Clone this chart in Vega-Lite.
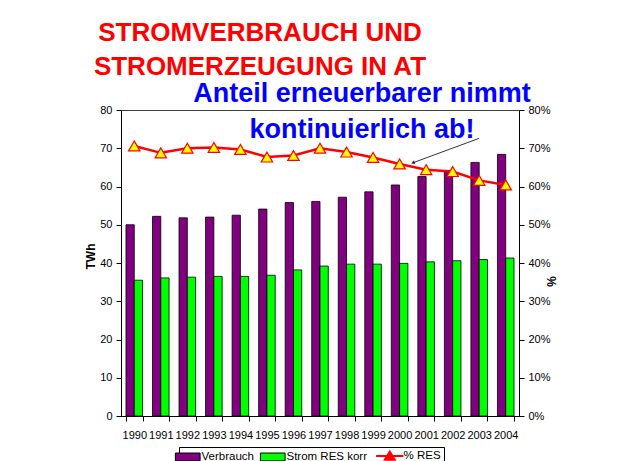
{
  "$schema": "https://vega.github.io/schema/vega-lite/v6.json",
  "width": 398,
  "height": 306,
  "autosize": {"type": "none"},
  "padding": {"left": 121, "top": 110, "right": 104, "bottom": 45},
  "background": "white",
  "config": {
    "font": "Liberation Sans",
    "view": {"stroke": "#404040", "strokeWidth": 1},
    "axis": {
      "labelFont": "Liberation Sans",
      "labelFontSize": 11,
      "labelColor": "black",
      "domainColor": "black",
      "tickColor": "black",
      "grid": false,
      "titleFont": "Liberation Sans",
      "titleFontSize": 12,
      "titleFontWeight": "bold",
      "titleColor": "black"
    }
  },
  "title": {
    "text": ["STROMVERBRAUCH UND", "STROMERZEUGUNG IN AT"],
    "font": "Liberation Sans",
    "fontSize": 26,
    "fontWeight": "bold",
    "color": "#FF0000",
    "anchor": "middle",
    "frame": "group",
    "dx": -60,
    "dy": 30,
    "lineHeight": 34,
    "offset": 30
  },
  "datasets": {
    "bars": [
      {"year": 1990, "series": "Verbrauch", "twh": 50.0},
      {"year": 1991, "series": "Verbrauch", "twh": 52.2},
      {"year": 1992, "series": "Verbrauch", "twh": 51.8},
      {"year": 1993, "series": "Verbrauch", "twh": 52.0},
      {"year": 1994, "series": "Verbrauch", "twh": 52.5},
      {"year": 1995, "series": "Verbrauch", "twh": 54.1},
      {"year": 1996, "series": "Verbrauch", "twh": 55.8},
      {"year": 1997, "series": "Verbrauch", "twh": 56.1},
      {"year": 1998, "series": "Verbrauch", "twh": 57.2},
      {"year": 1999, "series": "Verbrauch", "twh": 58.6},
      {"year": 2000, "series": "Verbrauch", "twh": 60.4},
      {"year": 2001, "series": "Verbrauch", "twh": 62.6},
      {"year": 2002, "series": "Verbrauch", "twh": 63.9},
      {"year": 2003, "series": "Verbrauch", "twh": 66.3},
      {"year": 2004, "series": "Verbrauch", "twh": 68.4},
      {"year": 1990, "series": "Strom RES korr", "twh": 35.5},
      {"year": 1991, "series": "Strom RES korr", "twh": 36.1},
      {"year": 1992, "series": "Strom RES korr", "twh": 36.3},
      {"year": 1993, "series": "Strom RES korr", "twh": 36.5},
      {"year": 1994, "series": "Strom RES korr", "twh": 36.5},
      {"year": 1995, "series": "Strom RES korr", "twh": 36.8},
      {"year": 1996, "series": "Strom RES korr", "twh": 38.2},
      {"year": 1997, "series": "Strom RES korr", "twh": 39.2},
      {"year": 1998, "series": "Strom RES korr", "twh": 39.7},
      {"year": 1999, "series": "Strom RES korr", "twh": 39.7},
      {"year": 2000, "series": "Strom RES korr", "twh": 39.9},
      {"year": 2001, "series": "Strom RES korr", "twh": 40.3},
      {"year": 2002, "series": "Strom RES korr", "twh": 40.6},
      {"year": 2003, "series": "Strom RES korr", "twh": 40.9},
      {"year": 2004, "series": "Strom RES korr", "twh": 41.3}
    ],
    "res": [
      {"year": 1990, "pct": 0.706},
      {"year": 1991, "pct": 0.688},
      {"year": 1992, "pct": 0.700},
      {"year": 1993, "pct": 0.702},
      {"year": 1994, "pct": 0.697},
      {"year": 1995, "pct": 0.677},
      {"year": 1996, "pct": 0.681},
      {"year": 1997, "pct": 0.700},
      {"year": 1998, "pct": 0.690},
      {"year": 1999, "pct": 0.676},
      {"year": 2000, "pct": 0.659},
      {"year": 2001, "pct": 0.644},
      {"year": 2002, "pct": 0.639},
      {"year": 2003, "pct": 0.616},
      {"year": 2004, "pct": 0.604}
    ],
    "notes": [
      {"year": 1999, "v": 82.1, "label": "Anteil erneuerbarer nimmt"},
      {"year": 1999, "v": 72.7, "label": "kontinuierlich ab!"}
    ],
    "arrow": [
      {"from": 2003, "to": 2000, "v1": 72.6, "v2": 66.2}
    ]
  },
  "layer": [
    {
      "layer": [
        {
          "data": {"name": "bars"},
          "mark": {"type": "bar", "stroke": "black", "strokeWidth": 0.8},
          "encoding": {
            "x": {
              "field": "year",
              "type": "ordinal",
              "scale": {"paddingInner": 0.375, "paddingOuter": 0.1875},
              "axis": {"title": null, "labelAngle": 0, "labelOverlap": false, "tickBand": "extent", "tickSize": 5, "labelPadding": 8}
            },
            "xOffset": {
              "field": "series",
              "type": "nominal",
              "sort": ["Verbrauch", "Strom RES korr"],
              "scale": {"paddingInner": 0, "paddingOuter": 0}
            },
            "y": {
              "field": "twh",
              "type": "quantitative",
              "scale": {"domain": [0, 80], "nice": false},
              "axis": {"title": "TWh", "values": [0, 10, 20, 30, 40, 50, 60, 70, 80], "labelOverlap": false, "tickSize": 5, "labelPadding": 4, "titleAngle": -90, "titleX": -31, "titleY": 146, "titleAlign": "center", "titleBaseline": "middle"}
            },
            "color": {
              "field": "series",
              "type": "nominal",
              "scale": {
                "domain": ["Verbrauch", "Strom RES korr", "% RES"],
                "range": ["#800080", "#00FF00", "#FF0000"]
              },
              "legend": {
                "orient": "none",
                "legendX": 58,
                "legendY": 337,
                "direction": "horizontal",
                "title": null,
                "strokeColor": "black",
                "fillColor": "white",
                "padding": 3,
                "labelFont": "Liberation Sans",
                "labelFontSize": 11.5,
                "labelColor": "black",
                "labelOffset": 8,
                "columnPadding": 4,
                "symbolSize": 676,
                "symbolStrokeColor": "black",
                "symbolStrokeWidth": 1,
                "encode": {
                  "symbols": {
                    "update": {
                      "shape": {"signal": "datum.value === '% RES' ? 'M-1.05,0H1.05M0,-0.35L0.38,0.27H-0.38Z' : 'M-0.95,-0.3H0.95V0.3H-0.95Z'"},
                      "fill": {"signal": "datum.value === '% RES' ? '#FFFF00' : (datum.value === 'Verbrauch' ? '#800080' : '#00FF00')"},
                      "stroke": {"signal": "datum.value === '% RES' ? '#FF0000' : 'black'"},
                      "strokeWidth": {"signal": "datum.value === '% RES' ? 2 : 1"},
                      "opacity": {"value": 1}
                    }
                  }
                }
              }
            }
          }
        },
        {
          "data": {"name": "notes"},
          "mark": {
            "type": "text",
            "font": "Liberation Sans",
            "fontSize": 27,
            "fontWeight": "bold",
            "color": "#0000FF",
            "align": "center",
            "baseline": "alphabetic",
            "dx": -11
          },
          "encoding": {
            "x": {"field": "year", "type": "ordinal",
              "axis": {"title": null, "labelAngle": 0, "labelOverlap": false, "tickBand": "extent", "tickSize": 5, "labelPadding": 8}},
            "y": {"field": "v", "type": "quantitative",
              "axis": {"title": "TWh", "values": [0, 10, 20, 30, 40, 50, 60, 70, 80], "labelOverlap": false, "tickSize": 5, "labelPadding": 4, "titleAngle": -90, "titleX": -31, "titleY": 146, "titleAlign": "center", "titleBaseline": "middle"}},
            "text": {"field": "label"}
          }
        },
        {
          "data": {"name": "arrow"},
          "mark": {"type": "rule", "color": "black", "strokeWidth": 0.8},
          "encoding": {
            "x": {"field": "from", "type": "ordinal", "bandPosition": 0.5, "title": null,
              "axis": {"title": null, "labelAngle": 0, "labelOverlap": false, "tickBand": "extent", "tickSize": 5, "labelPadding": 8}},
            "x2": {"field": "to", "bandPosition": 1.3},
            "y": {"field": "v1", "type": "quantitative", "title": "TWh",
              "axis": {"title": "TWh", "values": [0, 10, 20, 30, 40, 50, 60, 70, 80], "labelOverlap": false, "tickSize": 5, "labelPadding": 4, "titleAngle": -90, "titleX": -31, "titleY": 146, "titleAlign": "center", "titleBaseline": "middle"}},
            "y2": {"field": "v2"}
          }
        },
        {
          "data": {"name": "arrow"},
          "mark": {"type": "point", "shape": "triangle-up", "filled": true, "color": "black", "size": 18, "angle": 250},
          "encoding": {
            "x": {"field": "to", "type": "ordinal", "bandPosition": 1.3,
              "axis": {"title": null, "labelAngle": 0, "labelOverlap": false, "tickBand": "extent", "tickSize": 5, "labelPadding": 8}},
            "y": {"field": "v2", "type": "quantitative",
              "axis": {"title": "TWh", "values": [0, 10, 20, 30, 40, 50, 60, 70, 80], "labelOverlap": false, "tickSize": 5, "labelPadding": 4, "titleAngle": -90, "titleX": -31, "titleY": 146, "titleAlign": "center", "titleBaseline": "middle"}}
          }
        }
      ]
    },
    {
      "data": {"name": "res"},
      "layer": [
        {
          "mark": {"type": "line", "color": "#FF0000", "strokeWidth": 2.5},
          "encoding": {
            "x": {"field": "year", "type": "ordinal",
              "axis": {"title": null, "labelAngle": 0, "labelOverlap": false, "tickBand": "extent", "tickSize": 5, "labelPadding": 8}},
            "y": {
              "field": "pct",
              "type": "quantitative",
              "scale": {"domain": [0, 0.8], "nice": false},
              "axis": {"orient": "right", "title": "%", "format": ".0%", "values": [0, 0.1, 0.2, 0.3, 0.4, 0.5, 0.6, 0.7, 0.8], "labelOverlap": false, "tickSize": 5, "labelPadding": 4, "titleAngle": 90, "titleX": 31, "titleY": 171, "titleAlign": "center", "titleBaseline": "middle"}
            }
          }
        },
        {
          "mark": {"type": "point", "shape": "triangle-up", "filled": true, "fill": "#FFFF00", "stroke": "#FF0000", "strokeWidth": 1.2, "size": 130, "opacity": 1},
          "encoding": {
            "x": {"field": "year", "type": "ordinal",
              "axis": {"title": null, "labelAngle": 0, "labelOverlap": false, "tickBand": "extent", "tickSize": 5, "labelPadding": 8}},
            "y": {"field": "pct", "type": "quantitative",
              "axis": {"orient": "right", "title": "%", "format": ".0%", "values": [0, 0.1, 0.2, 0.3, 0.4, 0.5, 0.6, 0.7, 0.8], "labelOverlap": false, "tickSize": 5, "labelPadding": 4, "titleAngle": 90, "titleX": 31, "titleY": 171, "titleAlign": "center", "titleBaseline": "middle"}}
          }
        }
      ]
    }
  ],
  "resolve": {"scale": {"y": "independent"}}
}
